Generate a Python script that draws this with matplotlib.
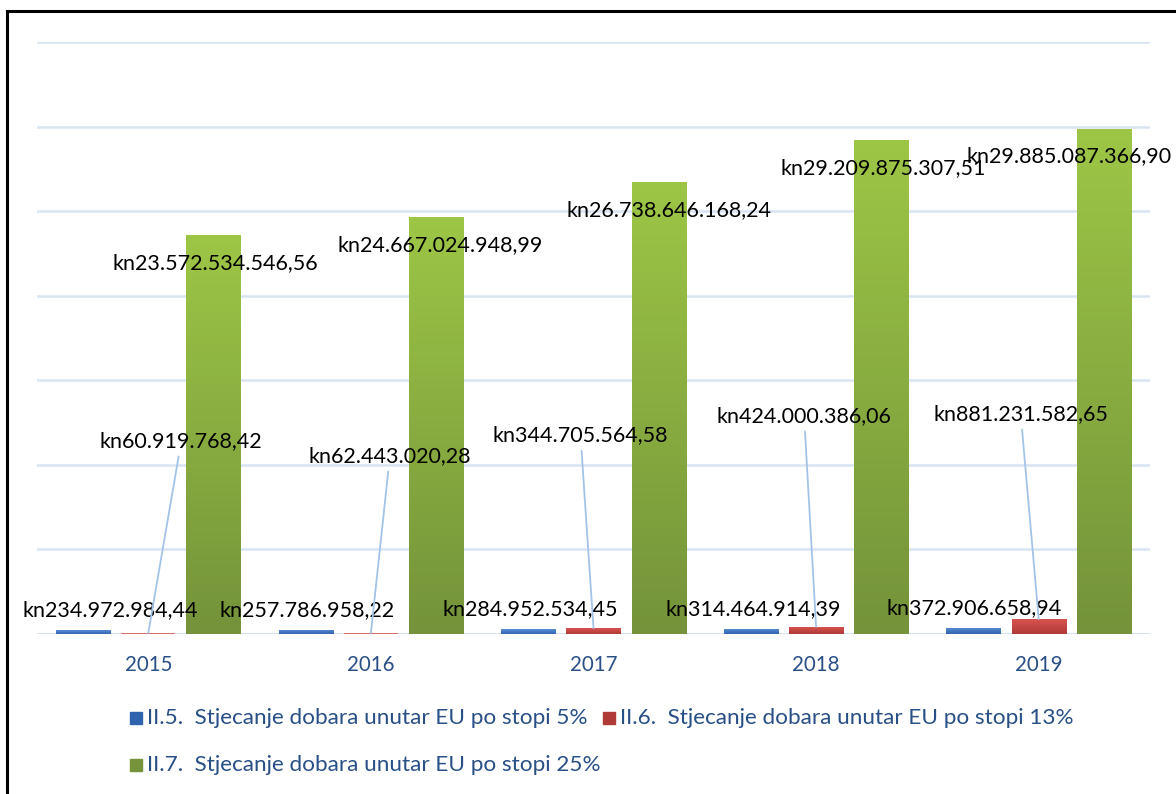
import numpy as np
import matplotlib
matplotlib.use("Agg")
import matplotlib.pyplot as plt
from matplotlib.lines import Line2D
from matplotlib.patches import Rectangle

# ---------------- data ----------------
years = ["2015", "2016", "2017", "2018", "2019"]
series_names = [
    "II.5.  Stjecanje dobara unutar EU po stopi 5%",
    "II.6.  Stjecanje dobara unutar EU po stopi 13%",
    "II.7.  Stjecanje dobara unutar EU po stopi 25%",
]
vals_5 = [234972984.44, 257786958.22, 284952534.45, 314464914.39, 372906658.94]
vals_13 = [60919768.42, 62443020.28, 344705564.58, 424000386.06, 881231582.65]
vals_25 = [23572534546.56, 24667024948.99, 26738646168.24, 29209875307.51, 29885087366.90]

# ---------------- layout / style ----------------
W, H, DPI = 1176, 794, 100
FONT = ["Lato", "DejaVu Sans"]
plt.rcParams["font.family"] = FONT

# label offsets in pixels (dx, dy) relative to bar top
off_5 = [(27, 20), (1, 20), (2, 20), (2, 20), (1, 20)]
off_13 = [(33, 192), (19, 177), (-13, 193), (-12, 211), (-18, 205)]
off_25 = [(2, -28), (4, -28), (10, -28), (2, -28), (-35, -28)]

grad = {
    0: ("#5b8fd6", "#2f63ad"),
    1: ("#d9534f", "#b03a37"),
    2: ("#9dc646", "#74933a"),
}
thin_color = {0: "#3f74c0", 1: "#d86a68", 2: "#8aad42"}
text_blue = "#284f86"


def fmt(v):
    s = f"{v:,.2f}"
    s = s.replace(",", "X").replace(".", ",").replace("X", ".")
    return "kn" + s


fig = plt.figure(figsize=(W / DPI, H / DPI), dpi=DPI)
ax = fig.add_axes([37 / W, 1 - 634 / H, (1150 - 37) / W, (634 - 42) / H])

x = np.arange(len(years))
bw = 0.243
step = 0.293
all_vals = [vals_5, vals_13, vals_25]
offsets_all = [off_5, off_13, off_25]

# grid
for g in np.arange(5e9, 35e9 + 1, 5e9):
    ax.axhline(g, color="#d9e4f2", lw=1.8, zorder=0)
ax.axhline(0, color="#c9d9ee", lw=1.8, zorder=1)

for si, vals in enumerate(all_vals):
    bars = ax.bar(x + (si - 1) * step, vals, width=bw, color=thin_color[si],
                  zorder=2, label=series_names[si], linewidth=0)
    top_c, bot_c = grad[si]
    cmap = matplotlib.colors.LinearSegmentedColormap.from_list("g%d" % si, [bot_c, top_c])
    gradient = np.linspace(0, 1, 256).reshape(-1, 1)
    for b in bars:
        x0, w, h = b.get_x(), b.get_width(), b.get_height()
        if h < 2e8:
            continue  # too thin for a visible gradient
        im = ax.imshow(gradient, cmap=cmap, origin="lower", aspect="auto",
                       extent=[x0, x0 + w, 0, h], zorder=2.5, interpolation="bicubic")
        im.set_clip_path(b)

ax.set_xlim(-0.5, len(years) - 0.5)
ax.set_ylim(0, 35e9)

# data labels
for si, (vals, offs) in enumerate(zip(all_vals, offsets_all)):
    for i, v in enumerate(vals):
        bx = x[i] + (si - 1) * step
        dx, dy = offs[i]
        if si == 1:
            ax.annotate(fmt(v), xy=(bx, v), xytext=(dx, dy), textcoords="offset pixels",
                        ha="center", va="center", fontsize=15.5, color="black",
                        family=FONT, zorder=5,
                        arrowprops=dict(arrowstyle="-", color="#a3c4e8", lw=1.3,
                                        shrinkA=2, shrinkB=0))
        else:
            ax.annotate(fmt(v), xy=(bx, v), xytext=(dx, dy), textcoords="offset pixels",
                        ha="center", va="center", fontsize=15.5, color="black",
                        family=FONT, zorder=5, annotation_clip=False)

for s in ax.spines.values():
    s.set_visible(False)
ax.set_yticks([])
ax.set_xticks(x)
ax.set_xticklabels(years, fontsize=14.8, color=text_blue)
ax.tick_params(axis="x", length=0, pad=15)

# legend (manual)
leg_items = [(130, 718, 0), (603, 718, 1), (130, 765, 2)]
for px, py, si in leg_items:
    fig.patches.append(Rectangle((px / W, 1 - (py + 6) / H), 12 / W, 12 / H,
                                 transform=fig.transFigure, color=grad[si][1],
                                 figure=fig, zorder=3))
    fig.text((px + 17) / W, 1 - py / H, series_names[si], fontsize=16.2,
             color=text_blue, va="center", ha="left", family=FONT)

# frame
fig.lines.append(Line2D([7 / W, 7 / W], [0, 1 - 11 / H], transform=fig.transFigure,
                        color="black", lw=2.2, figure=fig))
fig.lines.append(Line2D([7 / W, 1], [1 - 11 / H, 1 - 11 / H], transform=fig.transFigure,
                        color="black", lw=2.2, figure=fig))

fig.savefig("out.png", dpi=DPI)
